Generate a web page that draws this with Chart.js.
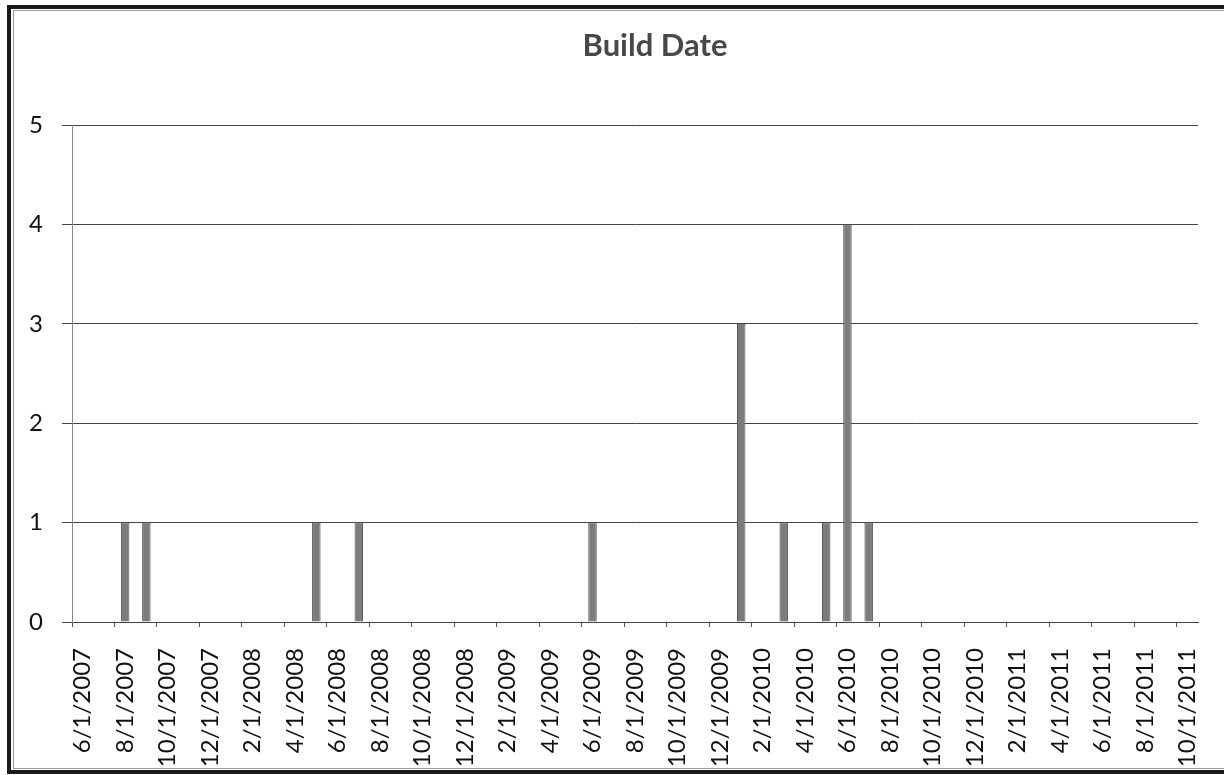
<!DOCTYPE html>
<html lang="en">
<head>
    <meta charset="UTF-8">
    <title>Build Date</title>
    <script src="https://cdn.jsdelivr.net/npm/chart.js"></script>
    <style>
        html, body {
            margin: 0;
            padding: 0;
            background: #fff;
        }
        #chart {
            display: block;
        }
    </style>
</head>
<body>
    <canvas id="chart" width="1224" height="775"></canvas>

    <script>
        // one category per month, Excel date axis with base unit = months
        const months = [
            '6/1/2007', '7/1/2007', '8/1/2007', '9/1/2007', '10/1/2007', '11/1/2007', '12/1/2007',
            '1/1/2008', '2/1/2008', '3/1/2008', '4/1/2008', '5/1/2008', '6/1/2008',
            '7/1/2008', '8/1/2008', '9/1/2008', '10/1/2008', '11/1/2008', '12/1/2008',
            '1/1/2009', '2/1/2009', '3/1/2009', '4/1/2009', '5/1/2009', '6/1/2009',
            '7/1/2009', '8/1/2009', '9/1/2009', '10/1/2009', '11/1/2009', '12/1/2009',
            '1/1/2010', '2/1/2010', '3/1/2010', '4/1/2010', '5/1/2010', '6/1/2010',
            '7/1/2010', '8/1/2010', '9/1/2010', '10/1/2010', '11/1/2010', '12/1/2010',
            '1/1/2011', '2/1/2011', '3/1/2011', '4/1/2011', '5/1/2011', '6/1/2011',
            '7/1/2011', '8/1/2011', '9/1/2011', '10/1/2011'
        ];

        // months that have builds, and how many
        const buildMonths = ['8/1/2007', '9/1/2007', '5/1/2008', '7/1/2008', '6/1/2009',
                             '1/1/2010', '3/1/2010', '5/1/2010', '6/1/2010', '7/1/2010'];
        const buildCounts = [1, 1, 1, 1, 1, 3, 1, 1, 4, 1];

        const yMin = 0;
        const yMax = 5;
        const yStep = 1;

        const titleText = 'Build Date';

        const frameAndTitle = {
            id: 'frameAndTitle',
            beforeDraw(chart) {
                const c = chart.ctx;
                c.save();
                c.fillStyle = '#fff';
                c.fillRect(0, 0, chart.width, chart.height);
                // outer double frame (right side falls off the picture)
                c.strokeStyle = '#1a1a1a';
                c.lineWidth = 4;
                c.strokeRect(9, 7, chart.width + 20, 765);
                c.strokeStyle = '#9a9a9a';
                c.lineWidth = 1;
                c.strokeRect(13.5, 10.5, chart.width + 20, 758);
                c.restore();
            },
            afterDraw(chart) {
                const c = chart.ctx;
                c.save();
                c.font = 'bold 31px Lato, "Open Sans", sans-serif';
                c.fillStyle = '#484848';
                c.textAlign = 'center';
                c.textBaseline = 'middle';
                c.fillText(titleText, 655, 46);
                c.restore();
            }
        };

        const ctx = document.getElementById('chart').getContext('2d');
        new Chart(ctx, {
            type: 'bar',
            data: {
                labels: months,
                datasets: [{
                    label: 'Builds',
                    data: buildMonths.map((m, i) => ({ x: m, y: buildCounts[i] })),
                    backgroundColor: '#7c7c7c',
                    borderColor: '#555',
                    borderWidth: 1,
                    categoryPercentage: 1,
                    barPercentage: 0.4
                }]
            },
            options: {
                responsive: false,
                animation: false,
                layout: {
                    padding: { left: 10, right: 26, top: 125, bottom: 0 }
                },
                plugins: {
                    legend: { display: false },
                    title: { display: false },
                    tooltip: { enabled: false }
                },
                scales: {
                    x: {
                        type: 'category',
                        offset: true,
                        afterFit: (scale) => {
                            scale.height = 153;
                            // keep the plot edges where the original has them
                            scale.paddingLeft = 0;
                            scale.paddingRight = 0;
                        },
                        grid: {
                            offset: true,
                            drawOnChartArea: false,
                            drawTicks: true,
                            tickLength: 5,
                            color: (c) => (c.index % 2 === 0 ? '#555' : 'rgba(0,0,0,0)')
                        },
                        border: { display: true, color: '#444', width: 1 },
                        ticks: {
                            autoSkip: false,
                            minRotation: 90,
                            maxRotation: 90,
                            padding: 21,
                            color: '#111',
                            font: { family: 'Lato, "Open Sans", sans-serif', size: 24 },
                            callback: function (value, index) {
                                return index % 2 === 0 ? this.getLabelForValue(value) : '';
                            }
                        }
                    },
                    y: {
                        min: yMin,
                        max: yMax,
                        afterFit: (scale) => { scale.width = 62; },
                        grid: {
                            color: '#444',
                            lineWidth: 1,
                            drawTicks: true,
                            tickLength: 10
                        },
                        border: { display: true, color: '#888', width: 1 },
                        ticks: {
                            stepSize: yStep,
                            padding: 19,
                            color: '#111',
                            font: { family: 'Lato, "Open Sans", sans-serif', size: 24 }
                        }
                    }
                }
            },
            plugins: [frameAndTitle]
        });
    </script>
</body>
</html>
